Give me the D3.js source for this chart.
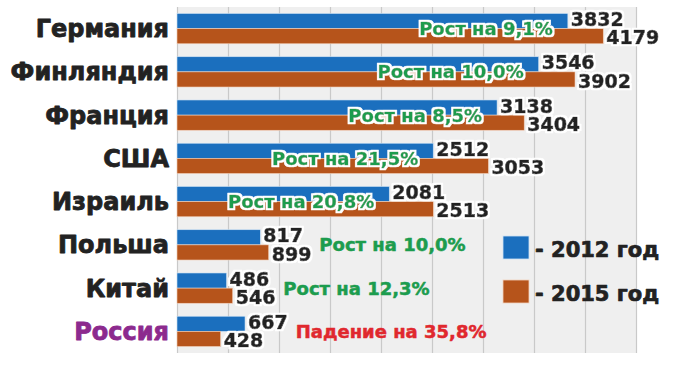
<!DOCTYPE html>
<html><head><meta charset="utf-8">
<script src="https://cdn.jsdelivr.net/npm/d3@7"></script>
<style>
body{margin:0;background:#fff;}
text{font-family:"DejaVu Sans",Verdana,sans-serif;font-weight:bold;}
</style></head>
<body>
<svg id="c" width="680" height="369">
<defs>
<filter id="halo" x="-15%" y="-40%" width="130%" height="180%">
  <feMorphology in="SourceAlpha" operator="dilate" radius="2" result="d"/>
  <feFlood flood-color="#ffffff"/>
  <feComposite in2="d" operator="in" result="w"/>
  <feMerge><feMergeNode in="w"/><feMergeNode in="SourceGraphic"/></feMerge>
</filter>
</defs>
</svg>
<script>
const countries = ["Германия","Финляндия","Франция","США","Израиль","Польша","Китай","Россия"];
const values2012 = [3832,3546,3138,2512,2081,817,486,667];
const values2015 = [4179,3902,3404,3053,2513,899,546,428];
const changeLabels = ["Рост на 9,1%","Рост на 10,0%","Рост на 8,5%","Рост на 21,5%","Рост на 20,8%","Рост на 10,0%","Рост на 12,3%","Падение на 35,8%"];
const tickValues = [0,500,1000,1500,2000,2500,3000,3500,4000,4500];
const legendLabels = ["- 2012 год","- 2015 год"];

const blue="#1b6fbe", orange="#b6541b";
const svg=d3.select("#c");
const x=d3.scaleLinear().domain([0,4500]).range([177,636]);
const y=d3.scaleBand().domain(countries).range([7,353]).paddingInner(0.3).paddingOuter(0.15);
const bw=y.bandwidth(), h=bw/2;

svg.append("rect").attr("x",x(0)).attr("y",7).attr("width",x(4500)-x(0)).attr("height",346).attr("fill","#efefef");
svg.append("g").attr("transform","translate(0,7)")
  .call(d3.axisTop(x).tickValues(tickValues).tickSize(-346).tickFormat(""))
  .call(g=>g.select(".domain").remove())
  .call(g=>g.selectAll(".tick line").attr("stroke","#c9c9c9").attr("stroke-width",1.2));

const rows=svg.append("g").selectAll("g").data(countries).join("g");
rows.append("rect").attr("x",x(0)).attr("y",c=>y(c)).attr("height",h)
  .attr("width",(c,i)=>x(values2012[i])-x(0)).attr("fill",blue).attr("stroke","#cfe3f5").attr("stroke-width",0.6);
rows.append("rect").attr("x",x(0)).attr("y",c=>y(c)+h).attr("height",h)
  .attr("width",(c,i)=>x(values2015[i])-x(0)).attr("fill",orange).attr("stroke","#f3d2bd").attr("stroke-width",0.6);

function label(sel, o){
  const t = sel.append("text").attr("x",o.x).attr("y",o.y).attr("dy",o.dy||0)
    .attr("text-anchor",o.anchor||"start").attr("font-size",o.size)
    .attr("fill",o.fill).attr("stroke",o.fill).attr("stroke-width",o.thick||0.7)
    .attr("stroke-linejoin","round").text(o.text);
  if(o.halo) t.attr("filter","url(#halo)");
  return t;
}

// country labels
label(rows,{x:169,y:c=>y(c)+h+8.5,anchor:"end",size:24,fill:(c,i)=>i===7?"#8c2a8e":"#222",text:c=>c,thick:0.8});

// value labels
const v1=label(rows,{x:(c,i)=>x(values2012[i])+3,y:c=>y(c)+h-2.5,size:19,fill:"#222",halo:true,text:(c,i)=>values2012[i]});
const v2=label(rows,{x:(c,i)=>x(values2015[i])+3,y:c=>y(c)+2*h+0.5,size:19,fill:"#222",halo:true,text:(c,i)=>values2015[i]});

const ends=countries.map((c,i)=>{
  const a=v1.nodes()[i].getBBox(), b=v2.nodes()[i].getBBox();
  return Math.max(a.x+a.width,b.x+b.width);
});

rows.each(function(c,i){
  const g=d3.select(this);
  const inside=i<5;
  label(g,{x:inside? x(values2012[i])-15 : ends[i]+8, y:y(c)+h, dy:"0.36em",
    anchor:inside?"end":"start", size:18, fill:i===7?"#e0282e":"#1c9c4e",
    halo:inside, text:changeLabels[i], thick:0.5});
});

// legend
const lg=svg.append("g").selectAll("g").data(legendLabels).join("g")
  .attr("transform",(d,i)=>`translate(503,${236+i*44})`);
lg.append("rect").attr("width",26).attr("height",23).attr("fill",(d,i)=>i?orange:blue)
  .attr("stroke",(d,i)=>i?"#f3d2bd":"#cfe3f5").attr("stroke-width",0.8);
label(lg,{x:32,y:20.5,size:21,fill:"#222",text:d=>d,thick:0.7});
</script>
</body></html>
